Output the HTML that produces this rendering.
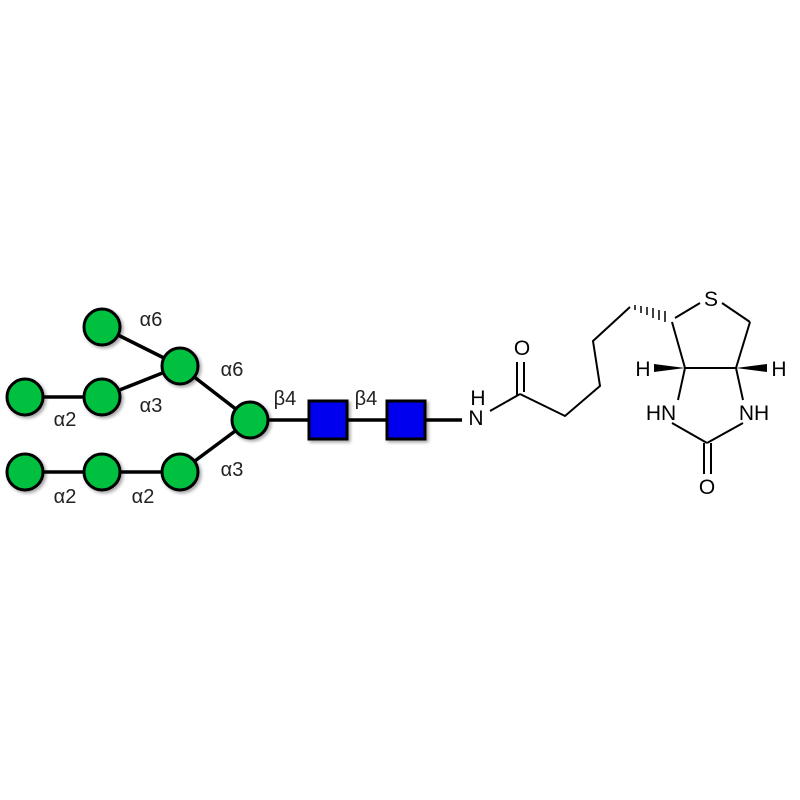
<!DOCTYPE html>
<html><head><style>body{margin:0;background:#fff}svg{display:block}</style></head><body>
<svg width="800" height="800" viewBox="0 0 800 800" xmlns="http://www.w3.org/2000/svg">
<defs><filter id="sh" x="-30%" y="-30%" width="170%" height="170%"><feDropShadow dx="2" dy="2" stdDeviation="1.5" flood-color="#000" flood-opacity="0.35"/></filter></defs>
<g stroke="#000" stroke-width="3.5" fill="none">
<line x1="102" y1="327" x2="180" y2="366"/>
<line x1="102" y1="397" x2="180" y2="366"/>
<line x1="25" y1="397" x2="102" y2="397"/>
<line x1="180" y1="366" x2="250" y2="420"/>
<line x1="180" y1="472" x2="250" y2="420"/>
<line x1="25" y1="472" x2="180" y2="472"/>
<line x1="250" y1="420" x2="462" y2="420"/>
</g>
<g fill="#00c040" stroke="#000" stroke-width="3" filter="url(#sh)">
<circle cx="102" cy="327" r="18"/><circle cx="180" cy="366" r="18"/>
<circle cx="25" cy="397" r="18"/><circle cx="102" cy="397" r="18"/>
<circle cx="250" cy="420" r="18"/>
<circle cx="25" cy="472" r="18"/><circle cx="102" cy="472" r="18"/><circle cx="180" cy="472" r="18"/>
<rect x="309" y="401" width="38" height="38" fill="#0000ee"/>
<rect x="387" y="401" width="38" height="38" fill="#0000ee"/>
</g>
<g font-family="Liberation Sans, sans-serif" font-size="20" fill="#222" text-anchor="middle">
<text x="151" y="326">α6</text><text x="232" y="376">α6</text>
<text x="151" y="412">α3</text><text x="65" y="426">α2</text>
<text x="232" y="476">α3</text><text x="65" y="503">α2</text><text x="143" y="503">α2</text>
<text x="285" y="405">β4</text><text x="366" y="405">β4</text>
</g>
<g stroke="#000" stroke-width="2" fill="none">
<line x1="490" y1="411" x2="520" y2="394"/>
<line x1="517" y1="362" x2="517" y2="396"/>
<line x1="524" y1="362" x2="524" y2="392"/>
<polyline points="520,394 565,416 600,386 593,341 630,307"/>
<line x1="675" y1="318" x2="700" y2="303"/>
<line x1="722" y1="303" x2="750" y2="322"/>
<line x1="750" y1="322" x2="736" y2="368"/>
<line x1="672" y1="322" x2="685" y2="368"/>
<line x1="685" y1="368" x2="736" y2="368"/>
<line x1="685" y1="368" x2="678" y2="400"/>
<line x1="736" y1="368" x2="743" y2="400"/>
<line x1="672" y1="423" x2="707" y2="443"/>
<line x1="743" y1="423" x2="707" y2="443"/>
<line x1="704" y1="443" x2="704" y2="474"/>
<line x1="711" y1="443" x2="711" y2="474"/>
</g>
<g stroke="#000" stroke-width="1.5">
<line x1="635" y1="305" x2="635" y2="310"/><line x1="641" y1="306" x2="641" y2="313"/>
<line x1="647" y1="307" x2="647" y2="315"/><line x1="653" y1="308" x2="653" y2="318"/>
<line x1="659" y1="310" x2="659" y2="320"/><line x1="665" y1="311" x2="665" y2="322"/>
</g>
<polygon points="685,368 654,364 654,372" fill="#000"/>
<polygon points="736,368 767,364 767,372" fill="#000"/>
<g font-family="Liberation Sans, sans-serif" font-size="21" fill="#000" text-anchor="middle">
<text x="478" y="405">H</text><text x="476" y="425">N</text>
<text x="522" y="355">O</text>
<text x="711" y="306">S</text>
<text x="643" y="376">H</text><text x="779" y="376">H</text>
<text x="661" y="420">HN</text><text x="754" y="420">NH</text>
<text x="707" y="494">O</text>
</g>
</svg>
</body></html>
